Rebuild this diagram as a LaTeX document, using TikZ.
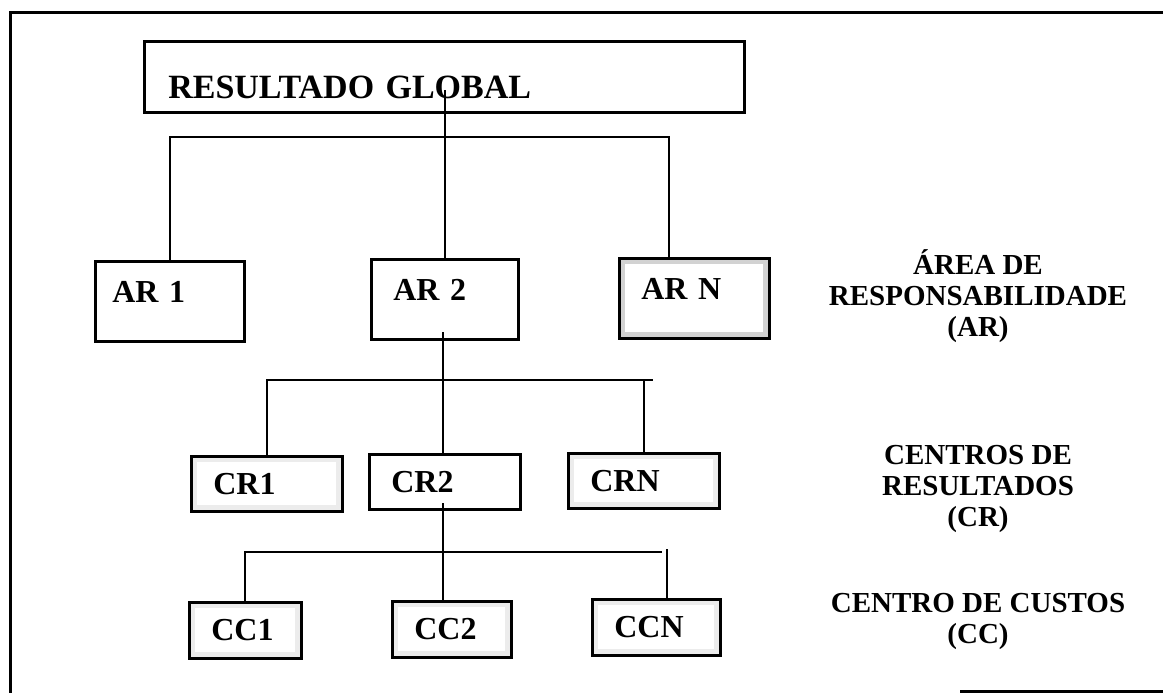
\documentclass[tikz,border=0pt]{standalone}
\usepackage{fontspec}
\setmainfont{Liberation Serif}
\begin{document}
\begin{tikzpicture}[x=1pt,y=-1pt,
  every node/.style={font=\bfseries\fontsize{32}{36}\selectfont},
  box/.style={draw,line width=2.6pt,anchor=north west,align=left,inner xsep=22pt,inner ysep=0pt,text height=21pt,text depth=0pt},
  grain/.style={path picture={\draw[#1,line width=12pt] (path picture bounding box.south west) rectangle (path picture bounding box.north east);}},
  link/.style={line width=2pt},
  frame/.style={line width=3pt},
  tag/.style={align=center,font=\bfseries\fontsize{29}{31}\selectfont}]
\useasboundingbox (0,0) rectangle (1163,693);
\coordinate (f1) at (10,693);
\coordinate (f2) at (10,13);
\coordinate (f3) at (1163,13);
\coordinate (f4) at (960,691);
\coordinate (f5) at (1163,691);
\draw[frame] (f1) -- (f2) -- (f3);
\draw[frame] (f4) -- (f5);
\node[box,text width=552pt,inner xsep=24pt,minimum height=71pt,text height=43pt,font=\bfseries\fontsize{34}{40}\selectfont] (glob) at (143,40) {RESULTADO GLOBAL};
\node[box,text width=115pt,inner xsep=17pt,minimum height=80pt,text depth=18pt] (arI) at (94,260) {AR 1};
\node[box,text width=103pt,minimum height=80pt,text depth=18pt] (arII) at (370,258) {AR 2};
\node[box,text width=106pt,minimum height=80pt,text depth=18pt,grain=gray!35] (arN) at (618,257) {AR N};
\node[box,text width=107pt,minimum height=55pt,grain=gray!15] (crI) at (190,455) {CR1};
\node[box,text width=107pt,minimum height=55pt] (crII) at (368,453) {CR2};
\node[box,text width=107pt,minimum height=55pt,grain=gray!15] (crN) at (567,452) {CRN};
\node[box,text width=68pt,minimum height=56pt,grain=gray!15] (ccI) at (188,601) {CC1};
\node[box,text width=75pt,minimum height=56pt,grain=gray!15] (ccII) at (391,600) {CC2};
\node[box,text width=84pt,minimum height=56pt,grain=gray!15] (ccN) at (591,598) {CCN};
\node[tag] (lar) at (978,296) {ÁREA DE\\RESPONSABILIDADE\\(AR)};
\node[tag] (lcr) at (978,489) {CENTROS DE\\RESULTADOS\\(CR)};
\node[tag] (lcc) at (978,621) {CENTRO DE CUSTOS\\(CC)};
\coordinate (g0) at (445,90);
\coordinate (b1r) at (669,137);
\coordinate (a2) at (443,332);
\coordinate (b2r) at (653,380);
\coordinate (c2) at (443,503);
\coordinate (b3r) at (662,552);
\coordinate (b3n) at (667,549);
\draw[link] (g0) -- (g0 |- arII.north);
\draw[link] (arI.north) |- (b1r) -- (b1r |- arN.north);
\draw[link] (a2) -- (a2 |- crII.north);
\draw[link] (crI.north) |- (b2r);
\draw[link] (crN.north) -- (crN.north |- b2r);
\draw[link] (c2) -- (c2 |- ccII.north);
\draw[link] (ccI.north) |- (b3r);
\draw[link] (b3n) -- (b3n |- ccN.north);
\end{tikzpicture}
\end{document}
